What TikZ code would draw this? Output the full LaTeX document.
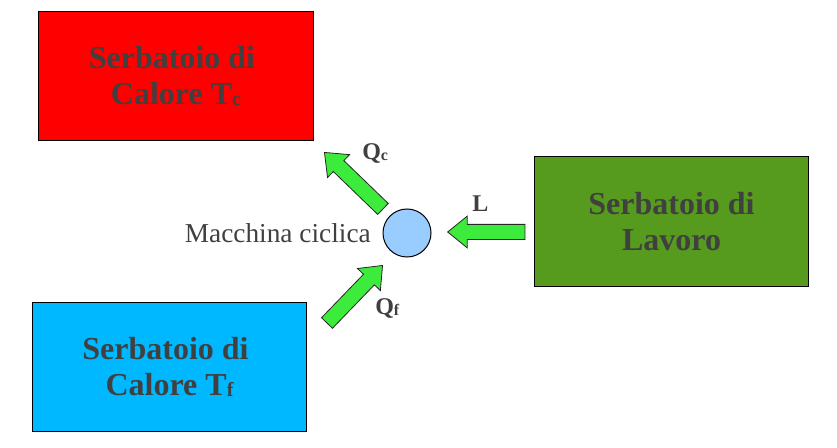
\documentclass[tikz,border=0pt]{standalone}
\usepackage{fontspec}
\setmainfont{Liberation Serif}
\usetikzlibrary{shapes.arrows}
\definecolor{caldo}{RGB}{255,0,0}
\definecolor{freddo}{RGB}{0,184,255}
\definecolor{lavoro}{RGB}{86,155,30}
\definecolor{freccia}{RGB}{60,235,60}
\definecolor{macchina}{RGB}{153,204,255}
\definecolor{testo}{RGB}{64,64,64}
\newcommand{\pedice}[1]{\raisebox{-1pt}{\fontsize{15}{15}\selectfont #1}}
\newcommand{\pedicino}[1]{\raisebox{-0.5pt}{\fontsize{12}{12}\selectfont #1}}
\begin{document}
\begin{tikzpicture}[x=0.75pt,y=-0.75pt,
    serbatoio/.style={draw=black, line width=0.9pt, minimum width=206pt, minimum height=97pt,
        text=testo, font=\fontsize{24}{26.5}\selectfont\bfseries, align=center},
    blockarrow/.style={single arrow, draw=black!85, fill=freccia, line width=0.6pt,
        inner xsep=0pt, inner ysep=5.4pt, single arrow head extend=6.2pt,
        single arrow tip angle=78, anchor=tip},
    etichetta/.style={text=testo, font=\fontsize{18}{18}\selectfont\bfseries, inner sep=0pt}]
    \useasboundingbox (0,0) rectangle (837,448);
    % serbatoi
    \node[serbatoio, fill=caldo] (caldo) at (176,76) {Serbatoio di\hspace*{0.25em}\\Calore T\pedice{c}};
    \node[serbatoio, fill=freddo] (freddo) at (169.5,367) {Serbatoio di\hspace*{0.25em}\\Calore T\pedice{f}};
    \node[serbatoio, fill=lavoro] (lavoro) at (671.5,221.5) {Serbatoio di\\Lavoro};
    % macchina
    \node[circle, draw=black, fill=macchina, line width=0.75pt, minimum size=36pt, inner sep=0pt] (mac) at (407,233) {};
    \node[anchor=base east, text=testo, font=\fontsize{20.5}{20.5}\selectfont, inner sep=0pt] (nome) at (371,243) {Macchina ciclica};
    % frecce
    \node[blockarrow, minimum height=61pt, rotate=136] (fQc) at (324,152) {};
    \node[blockarrow, minimum height=60pt, rotate=46] (fQf) at (383,265) {};
    \node[blockarrow, minimum height=58pt, rotate=180] (fL) at (447,232) {};
    \node[etichetta, anchor=base west] (tQc) at (362,160) {Q\pedicino{c}};
    \node[etichetta, anchor=base west] (tQf) at (375,315) {Q\pedicino{f}};
    \node[etichetta, anchor=base west] (tL) at (472,212) {L};
\end{tikzpicture}
\end{document}
